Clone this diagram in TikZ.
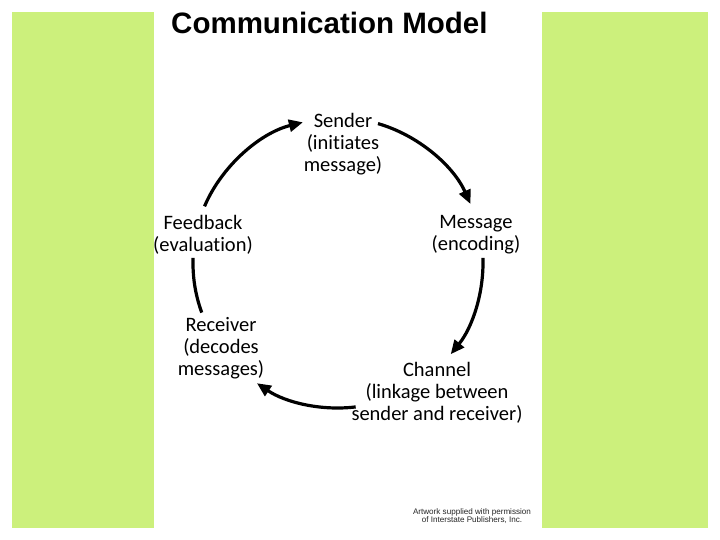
\documentclass[tikz,border=0pt]{standalone}
\usepackage{fontspec}
\setmainfont[Ligatures={NoCommon}]{Carlito}
\newfontfamily\titlefont{Liberation Sans}
\usetikzlibrary{arrows.meta}
\definecolor{lime}{RGB}{204,240,124}
\begin{document}
\begin{tikzpicture}[x=1pt,y=1pt,
  lbl/.style={align=center, font=\fontsize{20.5}{22}\selectfont, inner sep=0pt},
  flow/.style={line width=3.2pt, -{Triangle[length=14pt,width=12pt]}, looseness=0.87},
  link/.style={line width=3.2pt, looseness=0.87},
  band/.style={fill=lime, draw=none}]
\useasboundingbox (0,0) rectangle (720,540);
\fill[white] (0,0) rectangle (720,540);
\fill[band] (12,12) rectangle (154,528);
\fill[band] (542,12) rectangle (708,528);
\node[anchor=base west, font=\titlefont\bfseries\fontsize{29.5}{31}\selectfont, inner sep=0pt] (title) at (171,506.5) {Communication Model};

\node[lbl] (sender) at (343,396) {Sender\\(initiates\\message)};
\node[lbl] (message) at (476,305.5) {Message\\(encoding)};
\node[lbl] (channel) at (437,147) {Channel\\(linkage between\\sender and receiver)};
\node[lbl] (receiver) at (221,192) {Receiver\\(decodes\\messages)};
\node[lbl] (feedback) at (203,305.5) {Feedback\\(evaluation)};

\node[align=center, font=\titlefont\fontsize{8.1}{8.5}\selectfont, text=black!85, inner sep=0pt] (credit) at (472,24) {Artwork supplied with permission\\of Interstate Publishers, Inc.};

\coordinate (hub) at (338,277);
\coordinate (a1s) at ([shift={(157:145)}]hub);
\coordinate (a1e) at ([shift={(104:145)}]hub);
\coordinate (a2s) at ([shift={(74:145)}]hub);
\coordinate (a2e) at ([shift={(24:145)}]hub);
\coordinate (a3s) at ([shift={(2:145)}]hub);
\coordinate (a3e) at ([shift={(-39:145)}]hub);
\coordinate (a4s) at ([shift={(-83:145)}]hub);
\coordinate (a4e) at ([shift={(-124:145)}]hub);
\coordinate (a5s) at ([shift={(-160:145)}]hub);
\coordinate (a5e) at ([shift={(178:145)}]hub);

\draw[flow] (a1s) to[out=67,in=194] (a1e);
\draw[flow] (a2s) to[out=-16,in=114] (a2e);
\draw[flow] (a3s) to[out=-88,in=51] (a3e);
\draw[flow] (a4s) to[out=-173,in=-34] (a4e);
\draw[link] (a5s) to[out=110,in=268] (a5e);
\end{tikzpicture}
\end{document}
